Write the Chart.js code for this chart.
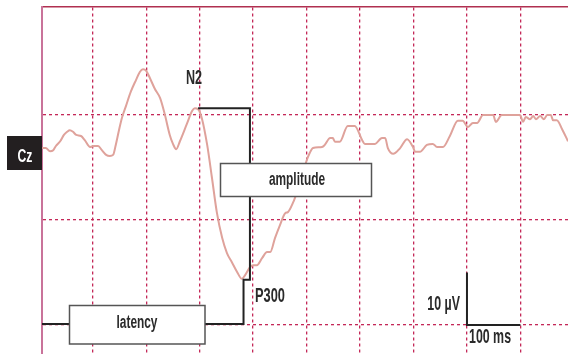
<!DOCTYPE html>
<html>
<head>
<meta charset="utf-8">
<script src="https://cdn.jsdelivr.net/npm/chart.js@4.4.0/dist/chart.umd.min.js"></script>
<style>
  html, body { margin: 0; padding: 0; background: #fff; }
  canvas { display: block; }
</style>
</head>
<body>
<canvas id="erpChart" width="568" height="354"></canvas>
<script>
// Cz trace: time in ms, amplitude in µV
const timeMs = [
  5, 12, 20, 26, 31, 39, 46, 52, 57, 63,
  69, 78, 85, 95, 102, 110, 117, 125, 132, 138,
  143, 149, 155, 162, 171, 181, 188, 194, 200, 207,
  216, 226, 235, 244, 250, 256, 263, 276, 286, 291,
  297, 304, 314, 323, 332, 342, 351, 360, 370, 379,
  385, 394, 400, 407, 417, 426, 432, 441, 450, 460,
  465, 475, 482, 491, 499, 506, 512, 529, 534, 544,
  549, 553, 562, 577, 590, 604, 609, 628, 641, 647,
  652, 662, 675, 688, 699, 703, 712, 725, 736, 744,
  755, 768, 783, 792, 802, 811, 819, 830, 849, 854,
  865, 899, 905, 910, 918, 924, 929, 937, 944, 950,
  957, 961, 968, 978, 989
];
const czUv = [
  33.7, 33.7, 33.1, 33.3, 34.1, 35.0, 36.2, 36.8, 37.1, 36.8,
  36.2, 36.0, 35.2, 33.9, 34.1, 34.1, 33.3, 32.4, 32.2, 32.4,
  34.3, 37.1, 39.6, 41.7, 44.4, 46.7, 48.2, 48.7, 48.4, 47.0,
  45.0, 43.2, 40.0, 36.2, 34.5, 33.5, 35.0, 38.3, 40.8, 41.3,
  41.1, 39.4, 34.3, 28.0, 21.5, 16.6, 13.7, 12.0, 10.1, 8.8,
  9.5, 11.0, 11.4, 11.4, 12.8, 13.9, 13.9, 16.6, 19.0, 21.3,
  21.5, 23.4, 25.3, 28.0, 31.0, 32.8, 33.7, 33.9, 34.3, 35.6,
  35.6, 34.9, 34.9, 37.9, 37.9, 35.2, 34.5, 34.5, 35.6, 35.6,
  33.7, 32.6, 33.7, 35.4, 33.9, 33.0, 33.0, 34.3, 34.5, 33.9,
  33.9, 36.0, 38.9, 38.9, 37.7, 38.5, 38.5, 40.0, 40.0, 38.7,
  40.0, 40.0, 38.7, 39.6, 39.2, 39.8, 39.2, 39.8, 39.2, 40.0,
  40.0, 39.0, 39.0, 37.3, 35.0
];

// latency line up to the P300 trough, then up to the N2 peak level
const bracketMs = [5, 382, 382, 394, 394, 297];
const bracketUv = [0.2, 0.2, 8.6, 8.6, 41.3, 41.3];

// calibration bars: 10 µV and 100 ms
const scaleBarMs = [800, 800, 900];
const scaleBarUv = [10, 0, 0];

const xGrid = [100, 200, 300, 400, 500, 600, 700, 800, 900];
const yGrid = [0, 20, 40];

const toPoints = (xs, ys) => xs.map((x, i) => ({ x: x, y: ys[i] }));

const gridColor = 'rgb(196, 40, 88)';

function label(ctx, text, x, baseline, size, squeeze, align, color) {
  ctx.save();
  ctx.font = 'bold ' + size + 'px "Liberation Sans", Arial, sans-serif';
  ctx.fillStyle = color || '#2a2a2a';
  ctx.textAlign = align || 'left';
  ctx.textBaseline = 'alphabetic';
  ctx.translate(x, baseline);
  ctx.scale(squeeze, 1);
  ctx.fillText(text, 0, 0);
  ctx.restore();
}

const annotations = {
  id: 'annotations',
  afterDatasetsDraw(chart) {
    const ctx = chart.ctx;
    ctx.save();
    // channel tag
    ctx.fillStyle = '#231f20';
    ctx.fillRect(7, 136, 35, 34);
    // label boxes
    ctx.fillStyle = '#fff';
    ctx.strokeStyle = '#555';
    ctx.lineWidth = 1.5;
    ctx.fillRect(220, 163, 152, 34);
    ctx.strokeRect(220.5, 163.5, 151, 33);
    ctx.fillRect(69, 305, 136, 39);
    ctx.strokeRect(69.5, 305.5, 135.5, 38.5);
    ctx.restore();

    label(ctx, 'Cz', 25, 161.5, 18.5, 0.66, 'center', '#fff');
    label(ctx, 'amplitude', 297, 185, 18, 0.66, 'center');
    label(ctx, 'latency', 137, 328, 18, 0.66, 'center');
    label(ctx, 'N2', 186, 83.5, 21, 0.6);
    label(ctx, 'P300', 255, 301.5, 21, 0.61);
    label(ctx, '10 µV', 460, 310, 21, 0.59, 'right');
    label(ctx, '100 ms', 469, 343, 21, 0.59);
  }
};

new Chart(document.getElementById('erpChart'), {
  type: 'line',
  data: {
    datasets: [
      {
        label: 'bracket',
        data: toPoints(bracketMs, bracketUv),
        borderColor: '#222',
        borderWidth: 2,
        pointRadius: 0,
        tension: 0,
        order: 0
      },
      {
        label: 'scale',
        data: toPoints(scaleBarMs, scaleBarUv),
        borderColor: '#222',
        borderWidth: 2,
        pointRadius: 0,
        tension: 0,
        order: 0
      },
      {
        label: 'Cz',
        data: toPoints(timeMs, czUv),
        borderColor: '#dfa29b',
        borderWidth: 2,
        pointRadius: 0,
        cubicInterpolationMode: 'monotone',
        order: 1
      }
    ]
  },
  options: {
    responsive: false,
    animation: false,
    devicePixelRatio: 1,
    layout: { padding: { left: 42, top: 7, right: 0, bottom: 0 } },
    plugins: {
      legend: { display: false },
      tooltip: { enabled: false }
    },
    scales: {
      x: {
        type: 'linear',
        position: 'top',
        min: 5,
        max: 989,
        afterBuildTicks: (scale) => { scale.ticks = xGrid.map(v => ({ value: v })); },
        ticks: { display: false },
        grid: { color: gridColor, lineWidth: 1.3, drawTicks: false },
        border: { display: true, color: '#b03050', width: 1.5, dash: [3, 3] }
      },
      y: {
        type: 'linear',
        min: -5.52,
        max: 60.57,
        afterBuildTicks: (scale) => { scale.ticks = yGrid.map(v => ({ value: v })); },
        ticks: { display: false },
        grid: { color: gridColor, lineWidth: 1.3, drawTicks: false },
        border: { display: true, color: '#c9739a', width: 2, dash: [3, 3] }
      }
    }
  },
  plugins: [annotations]
});
</script>
</body>
</html>
